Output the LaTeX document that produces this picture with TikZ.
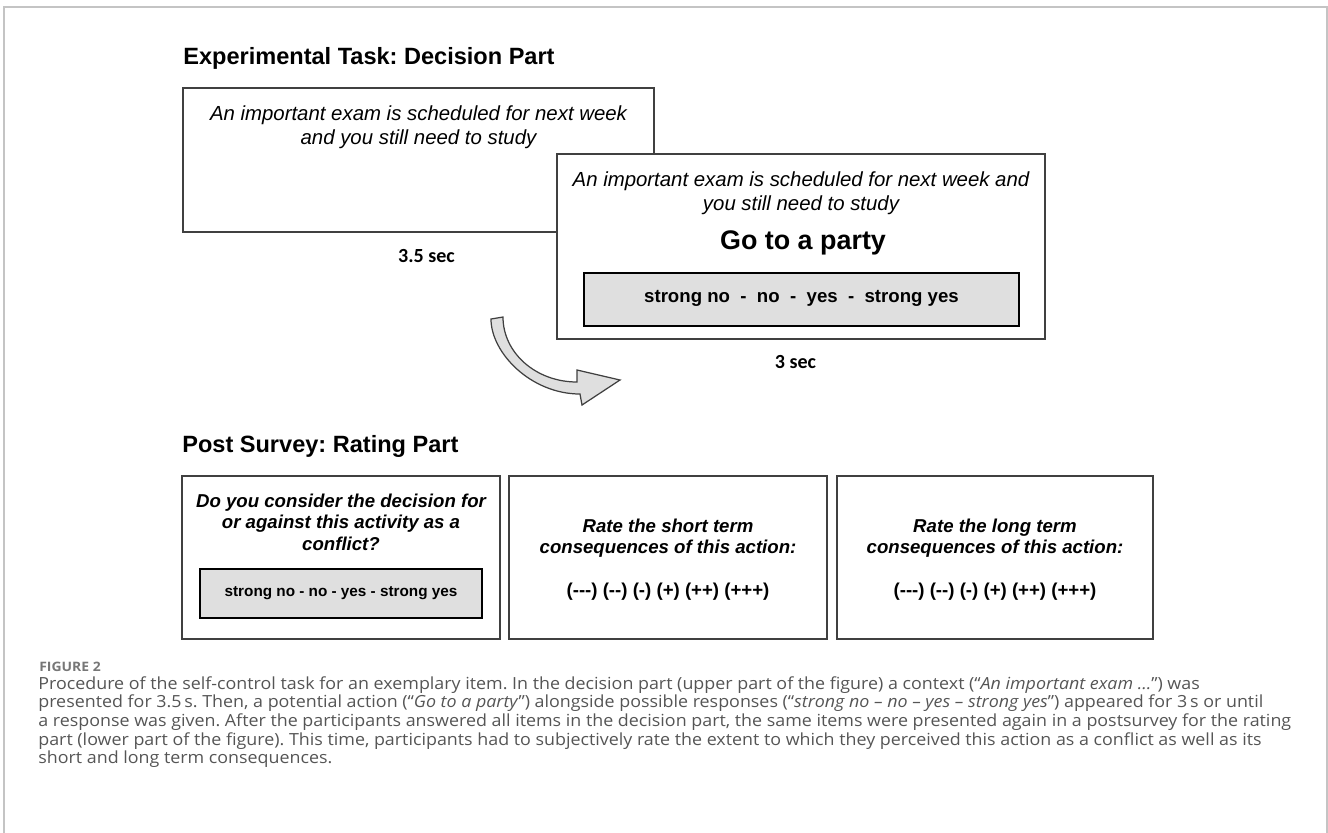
\documentclass[tikz,border=0pt]{standalone}
\usepackage{fontspec}
\setmainfont{Liberation Sans}
\newfontfamily\calibri{Carlito}
\newfontfamily\capfont[FakeStretch=1.07]{Open Sans}
\usepackage{tikz}
\usetikzlibrary{calc}
\definecolor{boxgray}{HTML}{DFDFDF}
\definecolor{linegray}{HTML}{404040}
\definecolor{framegray}{HTML}{C4C4C4}
\definecolor{capgray}{HTML}{555555}
\frenchspacing
\newcommand{\screen}[4]{ \draw[linegray, line width=0.8pt, fill=white] ( #1 , #2 ) rectangle ( #3 , #4 );}
\newcommand{\answerbox}[4]{ \draw[black, line width=0.8pt, fill=boxgray] ( #1 , #2 ) rectangle ( #3 , #4 );}
\newcommand{\textnode}[5]{\node[inner sep=0pt, align=center, #4] (#1) at ( #2 , #3 ) {#5};}
\tikzset{
  heading/.style={anchor=west, font=\fontsize{13.4}{16}\selectfont\bfseries},
  stim/.style={font=\fontsize{11.6}{13.7}\selectfont\itshape},
  action/.style={font=\fontsize{15.3}{18}\selectfont\bfseries},
  choice/.style={font=\fontsize{10.6}{12.5}\selectfont\bfseries},
  smallchoice/.style={font=\fontsize{8.7}{10.5}\selectfont\bfseries},
  question/.style={font=\fontsize{10.6}{12.2}\selectfont\bfseries\itshape},
  rating/.style={font=\fontsize{10.6}{12.5}\selectfont\bfseries},
  timing/.style={font=\fontsize{11.4}{13.5}\selectfont\calibri\bfseries},
  figlab/.style={anchor=west, text=capgray!80, font=\fontsize{7.4}{9}\selectfont\capfont\bfseries},
  captext/.style={anchor=north west, align=left, text=capgray, font=\fontsize{9.5}{10.64}\selectfont\capfont}
}

\begin{document}
\begin{tikzpicture}[x=0.2mm, y=-0.2mm]
    \useasboundingbox (0,0) rectangle (1328,832);
    \draw[framegray, line width=0.85pt] (4,850) -- (4,7) -- (1327,7) -- (1327,850);

    % decision part
    \textnode{titleA}{183}{58}{heading}{Experimental Task: Decision Part}
    \screen{183}{88}{654}{232}
    \textnode{ctxA}{418.5}{127}{stim}{An important exam is scheduled for next week\\and you still need to study}
    \textnode{timeA}{426.5}{256}{timing}{3.5 sec}
    \screen{557}{154}{1045}{339}
    \textnode{ctxB}{801}{193}{stim}{An important exam is scheduled for next week and\\you still need to study}
    \textnode{act}{803}{243}{action}{Go to a party}
    \answerbox{584}{273}{1019}{326}
    \textnode{respA}{801.5}{298}{choice}{strong no~~-~~no~~-~~yes~~-~~strong yes}
    \textnode{timeB}{795.5}{362}{timing}{3 sec}
    % curved block arrow
    \draw[linegray, line width=0.7pt, fill=boxgray, line join=miter]
        (491,319) -- (503,317) .. controls (503,353) and (536,382) .. (577,382)
        -- (577,370) -- (620,380) -- (582,405) -- (580,394)
        .. controls (531,394) and (491,353) .. (491,319) -- cycle;

    % rating part
    \textnode{titleB}{182}{446}{heading}{Post Survey: Rating Part}
    \screen{182}{476}{500}{639}
    \screen{509}{476}{827}{639}
    \screen{837}{476}{1153}{639}
    \textnode{qA}{341}{522}{question}{Do you consider the decision for\\or against this activity as a\\conflict?}
    \answerbox{200}{569}{482}{618}
    \textnode{respB}{341}{593.5}{smallchoice}{strong no - no - yes - strong yes}
    \textnode{qB}{668}{538}{question}{Rate the short term\\consequences of this action:}
    \textnode{rateB}{668}{592}{rating}{(-{}-{}-) (-{}-) (-) (+) (++) (+++)}
    \textnode{qC}{995}{538}{question}{Rate the long term\\consequences of this action:}
    \textnode{rateC}{995}{592}{rating}{(-{}-{}-) (-{}-) (-) (+) (++) (+++)}

    % caption
    \textnode{figno}{39}{667}{figlab}{FIGURE 2}
    \textnode{legend}{38}{676}{captext}{Procedure of the self-control task for an exemplary item. In the decision part (upper part of the figure) a context (“\textit{An important exam …}”) was\\
presented for 3.5\,s. Then, a potential action (“\textit{Go to a party}”) alongside possible responses (“\textit{strong no – no – yes – strong yes}”) appeared for 3\,s or until\\
a response was given. After the participants answered all items in the decision part, the same items were presented again in a postsurvey for the rating\\
part (lower part of the figure). This time, participants had to subjectively rate the extent to which they perceived this action as a conflict as well as its\\
short and long term consequences.}
\end{tikzpicture}
\end{document}
